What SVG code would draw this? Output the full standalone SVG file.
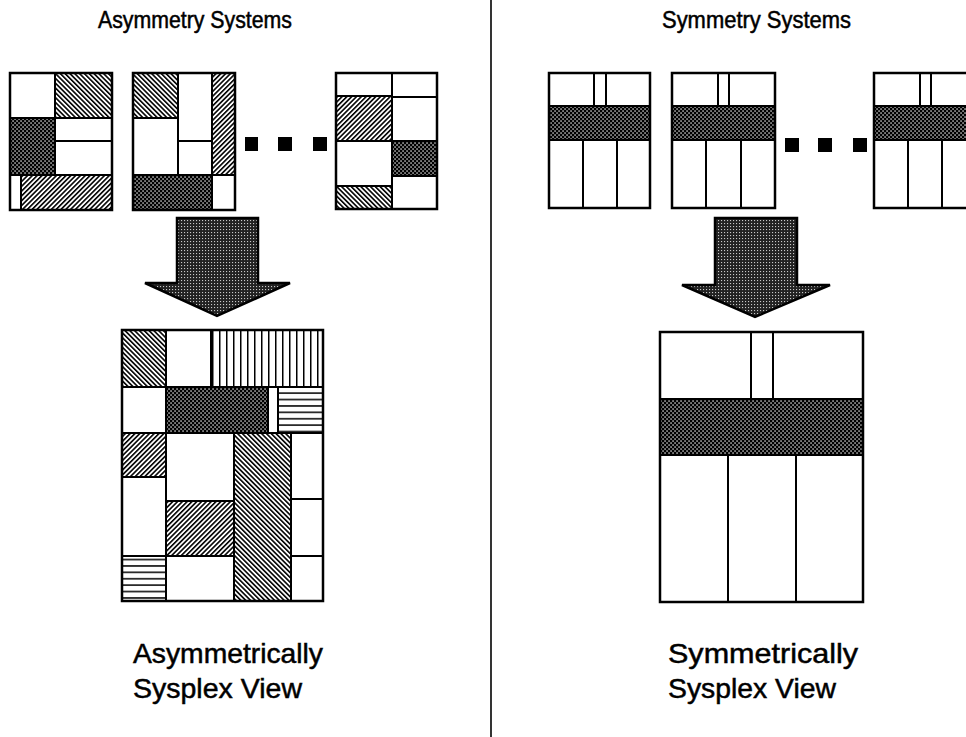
<svg xmlns="http://www.w3.org/2000/svg" width="966" height="737" viewBox="0 0 966 737">
<style>
  .t { font-family: "Liberation Sans", Arial, sans-serif; fill: #000; stroke: #000; stroke-width: 0.5; }
  .title { font-size: 23px; }
  .cap { font-size: 28px; }
  g > rect, g > polygon { stroke: #000; stroke-width: 2; }
  .w { fill: #fff; }
  .cx { fill: url(#cross); }
  .hb { fill: url(#hatchB); }
  .hf { fill: url(#hatchF); }
  .vl { fill: url(#vlines); }
  .hl { fill: url(#hlines); }
  g > rect.dot { fill: #000; stroke: none; }
  g > rect.frame { fill: none; stroke: #000; stroke-width: 2.5; }
  g > polygon.arrow { fill: url(#adots); stroke: #000; stroke-width: 2.5; stroke-linejoin: miter; }
  .sep { stroke: #000; stroke-width: 1.6; }
</style>
<defs>
  <pattern id="cross" width="4" height="4" patternUnits="userSpaceOnUse">
    <rect x="0" y="0" width="4" height="4" fill="#000"/>
    <rect x="0.4" y="0.4" width="1.3" height="1.3" fill="#fff"/>
    <rect x="2.4" y="2.4" width="1.3" height="1.3" fill="#fff"/>
  </pattern>
  <pattern id="hatchB" width="3.4" height="10" patternUnits="userSpaceOnUse" patternTransform="rotate(-45)">
    <rect x="0" y="0" width="3.4" height="10" fill="#fff"/>
    <rect x="0" y="0" width="1.6" height="10" fill="#000"/>
  </pattern>
  <pattern id="hatchF" width="3.4" height="10" patternUnits="userSpaceOnUse" patternTransform="rotate(45)">
    <rect x="0" y="0" width="3.4" height="10" fill="#fff"/>
    <rect x="0" y="0" width="1.6" height="10" fill="#000"/>
  </pattern>
  <pattern id="vlines" width="7" height="10" patternUnits="userSpaceOnUse">
    <rect x="0" y="0" width="7" height="10" fill="#fff"/>
    <rect x="2" y="0" width="1.5" height="10" fill="#000"/>
  </pattern>
  <pattern id="hlines" width="10" height="6.4" patternUnits="userSpaceOnUse">
    <rect x="0" y="0" width="10" height="6.4" fill="#fff"/>
    <rect x="0" y="2" width="10" height="1.5" fill="#000"/>
  </pattern>
  <pattern id="adots" width="3" height="3" patternUnits="userSpaceOnUse">
    <rect x="0" y="0" width="3" height="3" fill="#222"/>
    <rect x="1" y="1" width="1.1" height="1.1" fill="#c8c8c8"/>
  </pattern>
</defs>

<line class="sep" x1="491" y1="0" x2="491" y2="737"/>

<g id="title-asym">
  <text class="t title" x="98" y="28" textLength="194" lengthAdjust="spacingAndGlyphs">Asymmetry Systems</text>
</g>
<g id="title-sym">
  <text class="t title" x="662" y="28" textLength="189" lengthAdjust="spacingAndGlyphs">Symmetry Systems</text>
</g>

<g id="asym-system-1">
  <rect class="w" x="10" y="73" width="45" height="45"/>
  <rect class="hb" x="55" y="73" width="57" height="45"/>
  <rect class="cx" x="10" y="118" width="45" height="57"/>
  <rect class="w" x="55" y="118" width="57" height="23"/>
  <rect class="w" x="55" y="141" width="57" height="34"/>
  <rect class="w" x="10" y="175" width="11" height="35"/>
  <rect class="hf" x="21" y="175" width="91" height="35"/>
  <rect class="frame" x="10" y="73" width="102" height="137"/>
</g>

<g id="asym-system-2">
  <rect class="hb" x="133" y="73" width="45" height="45"/>
  <rect class="w" x="178" y="73" width="34" height="68"/>
  <rect class="w" x="178" y="141" width="34" height="34"/>
  <rect class="w" x="133" y="118" width="45" height="57"/>
  <rect class="hf" x="212" y="73" width="23" height="102"/>
  <rect class="cx" x="133" y="175" width="79" height="35"/>
  <rect class="w" x="212" y="175" width="23" height="35"/>
  <rect class="frame" x="133" y="73" width="102" height="137"/>
</g>

<g id="asym-dots">
  <rect class="dot" x="245" y="137" width="13" height="14"/>
  <rect class="dot" x="278" y="137" width="14" height="14"/>
  <rect class="dot" x="313" y="137" width="14" height="14"/>
</g>

<g id="asym-system-n">
  <rect class="w" x="336" y="73" width="56" height="23"/>
  <rect class="hf" x="336" y="96" width="56" height="45"/>
  <rect class="w" x="336" y="141" width="56" height="45"/>
  <rect class="hb" x="336" y="186" width="56" height="23"/>
  <rect class="w" x="392" y="73" width="45" height="24"/>
  <rect class="w" x="392" y="97" width="45" height="44"/>
  <rect class="cx" x="392" y="141" width="45" height="35"/>
  <rect class="w" x="392" y="176" width="45" height="33"/>
  <rect class="frame" x="336" y="73" width="101" height="136"/>
</g>

<g id="sym-system-1">
  <rect class="w" x="549" y="73" width="45" height="33"/>
  <rect class="w" x="594" y="73" width="12" height="33"/>
  <rect class="w" x="606" y="73" width="44" height="33"/>
  <rect class="cx" x="549" y="106" width="101" height="34"/>
  <rect class="w" x="549" y="140" width="34" height="68"/>
  <rect class="w" x="583" y="140" width="34" height="68"/>
  <rect class="w" x="617" y="140" width="33" height="68"/>
  <rect class="frame" x="549" y="73" width="101" height="135"/>
</g>

<g id="sym-system-2">
  <rect class="w" x="672" y="73" width="46" height="33"/>
  <rect class="w" x="718" y="73" width="11" height="33"/>
  <rect class="w" x="729" y="73" width="46" height="33"/>
  <rect class="cx" x="672" y="106" width="103" height="34"/>
  <rect class="w" x="672" y="140" width="34" height="68"/>
  <rect class="w" x="706" y="140" width="35" height="68"/>
  <rect class="w" x="741" y="140" width="34" height="68"/>
  <rect class="frame" x="672" y="73" width="103" height="135"/>
</g>

<g id="sym-dots">
  <rect class="dot" x="785" y="138" width="14" height="14"/>
  <rect class="dot" x="818" y="138" width="14" height="14"/>
  <rect class="dot" x="853" y="138" width="14" height="14"/>
</g>

<g id="sym-system-n">
  <rect class="w" x="874" y="73" width="46" height="33"/>
  <rect class="w" x="920" y="73" width="11" height="33"/>
  <rect class="w" x="931" y="73" width="46" height="33"/>
  <rect class="cx" x="874" y="106" width="103" height="34"/>
  <rect class="w" x="874" y="140" width="34" height="68"/>
  <rect class="w" x="908" y="140" width="34" height="68"/>
  <rect class="w" x="942" y="140" width="35" height="68"/>
  <rect class="frame" x="874" y="73" width="103" height="135"/>
</g>

<g id="connectors">
  <polygon class="arrow" points="177,218 258,218 258,283 290,283 217,316 145,283 177,283"/>
  <polygon class="arrow" points="715,218 797,218 797,285 830,285 755,317 682,285 715,285"/>
</g>

<g id="asym-sysplex-view">
  <rect class="hb" x="122" y="330" width="44" height="57"/>
  <rect class="w" x="166" y="330" width="45" height="57"/>
  <rect class="vl" x="211" y="330" width="112" height="57"/>
  <rect class="w" x="122" y="387" width="44" height="46"/>
  <rect class="cx" x="166" y="387" width="102" height="46"/>
  <rect class="w" x="268" y="387" width="10" height="46"/>
  <rect class="hl" x="278" y="387" width="45" height="46"/>
  <rect class="hf" x="122" y="433" width="44" height="44"/>
  <rect class="w" x="122" y="477" width="44" height="79"/>
  <rect class="hl" x="122" y="556" width="44" height="45"/>
  <rect class="w" x="166" y="433" width="68" height="68"/>
  <rect class="hf" x="166" y="501" width="68" height="55"/>
  <rect class="w" x="166" y="556" width="68" height="45"/>
  <rect class="hb" x="234" y="433" width="57" height="168"/>
  <rect class="w" x="291" y="433" width="32" height="66"/>
  <rect class="w" x="291" y="499" width="32" height="57"/>
  <rect class="w" x="291" y="556" width="32" height="45"/>
  <rect class="frame" x="122" y="330" width="201" height="271"/>
</g>

<g id="sym-sysplex-view">
  <rect class="w" x="660" y="332" width="91" height="67"/>
  <rect class="w" x="751" y="332" width="22" height="67"/>
  <rect class="w" x="773" y="332" width="90" height="67"/>
  <rect class="cx" x="660" y="399" width="203" height="56"/>
  <rect class="w" x="660" y="455" width="68" height="147"/>
  <rect class="w" x="728" y="455" width="68" height="147"/>
  <rect class="w" x="796" y="455" width="67" height="147"/>
  <rect class="frame" x="660" y="332" width="203" height="270"/>
</g>

<g id="caption-asym">
  <text class="t cap" x="133" y="663" textLength="190" lengthAdjust="spacingAndGlyphs">Asymmetrically</text>
  <text class="t cap" x="133" y="698" textLength="169" lengthAdjust="spacingAndGlyphs">Sysplex View</text>
</g>
<g id="caption-sym">
  <text class="t cap" x="668" y="663" textLength="190" lengthAdjust="spacingAndGlyphs">Symmetrically</text>
  <text class="t cap" x="668" y="698" textLength="168" lengthAdjust="spacingAndGlyphs">Sysplex View</text>
</g>
</svg>
